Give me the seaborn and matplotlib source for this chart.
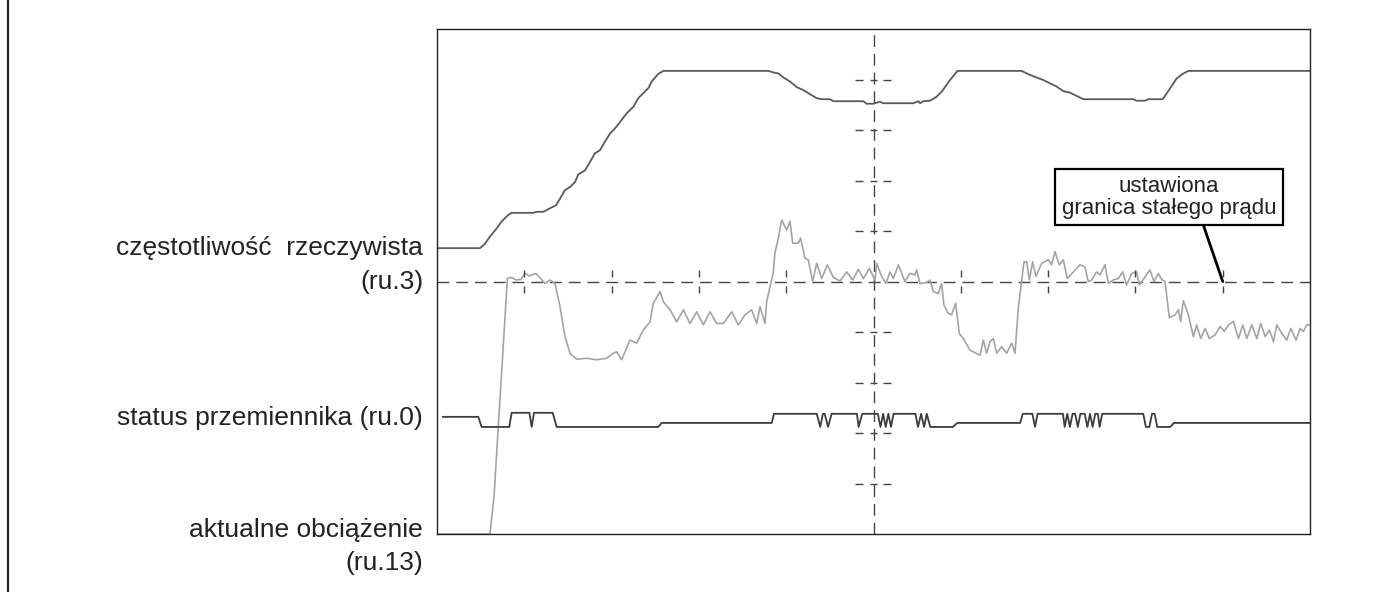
import numpy as np
import pandas as pd
import matplotlib
matplotlib.use('Agg')
import matplotlib.pyplot as plt
import seaborn as sns

# czas (dzialki osi 0..10) i wartosci sygnalow (dzialki osi 0..10)
freq_t = [0.0, 0.492, 0.55, 0.607, 0.683, 0.741, 0.817, 0.855, 1.103, 1.141, 1.218, 1.294,
          1.363, 1.409, 1.466, 1.523, 1.581, 1.619, 1.695, 1.753, 1.81, 1.867, 1.924, 1.982,
          2.058, 2.115, 2.173, 2.249, 2.306, 2.363, 2.421, 2.459, 2.535, 2.593, 3.796, 3.853,
          3.91, 3.968, 4.043, 4.12, 4.196, 4.272, 4.349, 4.407, 4.5, 4.54, 4.884, 4.922,
          4.998, 5.074, 5.112, 5.456, 5.515, 5.533, 5.571, 5.647, 5.724, 5.782, 5.877, 5.961,
          6.698, 6.792, 6.945, 7.098, 7.174, 7.25, 7.403, 7.976, 8.014, 8.11, 8.148, 8.312,
          8.396, 8.472, 8.549, 8.607, 10.0]
freq_v = [5.66, 5.66, 5.75, 5.89, 6.05, 6.19, 6.32, 6.36, 6.36, 6.38, 6.38, 6.45,
          6.51, 6.64, 6.81, 6.87, 6.97, 7.12, 7.20, 7.37, 7.54, 7.60, 7.77, 7.93,
          8.07, 8.20, 8.33, 8.46, 8.63, 8.73, 8.83, 8.96, 9.11, 9.17, 9.17, 9.14,
          9.12, 9.04, 8.96, 8.85, 8.79, 8.71, 8.63, 8.61, 8.61, 8.57, 8.57, 8.52,
          8.52, 8.56, 8.53, 8.53, 8.57, 8.53, 8.57, 8.58, 8.66, 8.76, 8.99, 9.17,
          9.17, 9.09, 8.99, 8.86, 8.77, 8.74, 8.61, 8.61, 8.58, 8.58, 8.61, 8.61,
          8.82, 9.02, 9.12, 9.17, 9.17]

load_t = [0.0, 0.607, 0.653, 0.806, 0.855, 0.905, 0.958, 1.008, 1.058, 1.134, 1.237, 1.294,
          1.352, 1.409, 1.466, 1.523, 1.60, 1.714, 1.829, 1.943, 2.02, 2.058, 2.115, 2.21,
          2.287, 2.363, 2.44, 2.478, 2.555, 2.593, 2.669, 2.746, 2.822, 2.898, 2.975, 3.051,
          3.127, 3.204, 3.28, 3.375, 3.452, 3.528, 3.604, 3.662, 3.70, 3.757, 3.776, 3.853,
          3.87, 3.91, 3.948, 4.005, 4.043, 4.074, 4.139, 4.165, 4.215, 4.253, 4.303, 4.349,
          4.407, 4.471, 4.54, 4.617, 4.693, 4.762, 4.826, 4.884, 4.952, 5.017, 5.036, 5.094,
          5.143, 5.189, 5.227, 5.285, 5.36, 5.418, 5.475, 5.494, 5.532, 5.608, 5.647, 5.685,
          5.742, 5.78, 5.807, 5.857, 5.895, 5.941, 5.983, 6.029, 6.106, 6.22, 6.258, 6.296,
          6.335, 6.373, 6.411, 6.468, 6.525, 6.583, 6.621, 6.66, 6.698, 6.724, 6.755, 6.785,
          6.823, 6.861, 6.926, 7.003, 7.04, 7.079, 7.128, 7.174, 7.22, 7.289, 7.365, 7.422,
          7.46, 7.499, 7.556, 7.594, 7.652, 7.69, 7.747, 7.804, 7.854, 7.9, 7.957, 8.014,
          8.045, 8.11, 8.167, 8.213, 8.263, 8.301, 8.339, 8.389, 8.454, 8.492, 8.519, 8.549,
          8.607, 8.664, 8.702, 8.748, 8.798, 8.848, 8.912, 8.97, 9.016, 9.066, 9.123, 9.18,
          9.23, 9.276, 9.333, 9.39, 9.436, 9.486, 9.535, 9.581, 9.619, 9.677, 9.734, 9.78,
          9.841, 9.887, 9.925, 9.963, 10.0]
load_v = [0.0, 0.0, 0.74, 5.06, 5.08, 5.03, 5.04, 5.16, 5.11, 5.16, 4.96, 5.03,
          4.96, 4.50, 3.91, 3.58, 3.46, 3.48, 3.45, 3.48, 3.58, 3.61, 3.45, 3.84,
          3.78, 4.04, 4.20, 4.57, 4.80, 4.60, 4.44, 4.20, 4.44, 4.17, 4.40, 4.14,
          4.40, 4.17, 4.17, 4.40, 4.14, 4.34, 4.44, 4.17, 4.50, 4.17, 4.60, 5.19,
          5.56, 5.86, 6.22, 6.02, 6.19, 5.76, 5.76, 5.86, 5.46, 5.43, 5.00, 5.36,
          5.06, 5.33, 5.08, 5.01, 5.19, 5.03, 5.24, 5.06, 5.26, 5.03, 5.36, 5.10,
          4.96, 5.19, 5.06, 5.33, 5.00, 5.16, 5.13, 5.23, 4.96, 4.98, 5.03, 4.80,
          4.76, 4.96, 4.53, 4.37, 4.34, 4.57, 3.97, 3.87, 3.64, 3.54, 3.84, 3.58,
          3.81, 3.87, 3.58, 3.71, 3.58, 3.78, 3.58, 4.50, 5.03, 5.39, 5.39, 5.03,
          5.39, 5.10, 5.36, 5.43, 5.33, 5.59, 5.33, 5.43, 5.06, 5.19, 5.33, 5.29,
          5.00, 5.03, 5.19, 5.13, 5.33, 4.96, 5.03, 5.06, 5.19, 4.93, 5.16, 5.19,
          4.93, 5.09, 5.23, 5.00, 5.16, 5.04, 5.00, 4.28, 4.34, 4.44, 4.21, 4.62,
          4.34, 3.91, 4.14, 3.87, 4.07, 3.87, 3.94, 4.11, 4.01, 4.14, 4.21, 3.87,
          4.14, 3.87, 4.14, 3.87, 4.17, 3.91, 4.04, 3.81, 4.14, 3.97, 3.84, 4.07,
          3.84, 4.07, 4.01, 4.14, 4.14]

status_t = [0.065, 0.473, 0.511, 0.828, 0.855, 1.058, 1.084, 1.111, 1.325, 1.371, 2.535, 2.573,
            3.834, 3.86, 4.35, 4.39, 4.42, 4.44, 4.48, 4.52, 4.81, 4.83, 4.87, 5.05,
            5.08, 5.11, 5.14, 5.17, 5.20, 5.23, 5.48, 5.51, 5.545, 5.58, 5.61, 5.65,
            5.91, 5.96, 6.68, 6.71, 6.82, 6.85, 6.88, 7.17, 7.19, 7.22, 7.25, 7.28,
            7.31, 7.34, 7.37, 7.42, 7.45, 7.48, 7.51, 7.54, 7.57, 7.59, 7.62, 8.09,
            8.12, 8.16, 8.19, 8.22, 8.25, 8.40, 8.44, 10.0]
status_v = [2.32, 2.32, 2.12, 2.12, 2.40, 2.40, 2.12, 2.40, 2.40, 2.12, 2.12, 2.20,
            2.20, 2.38, 2.38, 2.12, 2.38, 2.38, 2.12, 2.38, 2.38, 2.12, 2.38, 2.38,
            2.12, 2.38, 2.12, 2.38, 2.12, 2.38, 2.38, 2.12, 2.38, 2.12, 2.38, 2.12,
            2.12, 2.20, 2.20, 2.38, 2.38, 2.12, 2.38, 2.38, 2.12, 2.38, 2.12, 2.38,
            2.38, 2.12, 2.38, 2.38, 2.12, 2.38, 2.12, 2.38, 2.38, 2.12, 2.38, 2.38,
            2.12, 2.12, 2.38, 2.38, 2.12, 2.12, 2.20, 2.20]

limit_level = 5.0
limit_time = 9.0
cursor_time = 5.0
divisions = np.arange(1, 10)

sns.set_style('white')
plt.rcParams['font.family'] = ['Liberation Sans', 'DejaVu Sans']

fig = plt.figure(figsize=(13.97, 5.92), dpi=100)
ax = fig.add_axes([437 / 1397, 58 / 592, 873 / 1397, 505 / 592])

sns.lineplot(data=pd.DataFrame({'t': freq_t, 'v': freq_v}), x='t', y='v', ax=ax,
             color='#5a5a5a', linewidth=1.3, sort=False)
sns.lineplot(data=pd.DataFrame({'t': load_t, 'v': load_v}), x='t', y='v', ax=ax,
             color='#a4a4a4', linewidth=1.2, sort=False)
sns.lineplot(data=pd.DataFrame({'t': status_t, 'v': status_v}), x='t', y='v', ax=ax,
             color='#3c3c3c', linewidth=1.3, sort=False)

# krzyz pomocniczy z podzialka
grid_c = '#444444'
dash = (0, (8.5, 5))
ax.axhline(limit_level, color=grid_c, linewidth=1.0, linestyle=dash, zorder=1)
ax.axvline(cursor_time, color=grid_c, linewidth=1.0, linestyle=dash, zorder=1)
tx = divisions[divisions != cursor_time]
ax.vlines(tx, limit_level + 0.08, limit_level + 0.22, color=grid_c, linewidth=1.0)
ax.vlines(tx, limit_level - 0.22, limit_level - 0.08, color=grid_c, linewidth=1.0)
ty = divisions[divisions != limit_level]
ax.hlines(ty, cursor_time - 0.21, cursor_time - 0.12, color=grid_c, linewidth=1.0)
ax.hlines(ty, cursor_time - 0.04, cursor_time + 0.04, color=grid_c, linewidth=1.0)
ax.hlines(ty, cursor_time + 0.11, cursor_time + 0.20, color=grid_c, linewidth=1.0)

ax.set_xlim(0, 10)
ax.set_ylim(0, 10)
ax.set_xticks([])
ax.set_yticks([])
ax.set_xlabel('')
ax.set_ylabel('')
for s in ax.spines.values():
    s.set_visible(True)
    s.set_color('#222222')
    s.set_linewidth(1.0)

ax.annotate('ustawiona\ngranica stałego prądu', xy=(limit_time, limit_level),
            xytext=(8.385, 6.67), textcoords='data', ha='center', va='center',
            fontsize=16, color='#222222', linespacing=1.08,
            bbox=dict(boxstyle='square,pad=0.3', fc='white', ec='black', lw=1.6),
            arrowprops=dict(arrowstyle='-', color='black', lw=2, relpos=(0.65, 0),
                            shrinkA=0, shrinkB=0))

tr = ax.get_yaxis_transform()
lab = dict(transform=tr, ha='right', va='center', fontsize=19, color='#222222', clip_on=False)
ax.text(-0.016, 5.66, 'częstotliwość  rzeczywista', **lab)
ax.text(-0.016, 4.99, '(ru.3)', **lab)
ax.text(-0.016, 2.30, 'status przemiennika (ru.0)', **lab)
ax.text(-0.016, 0.08, 'aktualne obciążenie', **lab)
ax.text(-0.016, -0.57, '(ru.13)', **lab)

fig.add_artist(plt.Line2D([8 / 1397, 8 / 1397], [0, 1], color='#222222', linewidth=1.6,
                          transform=fig.transFigure))

fig.savefig('out.png', dpi=100, facecolor='white')
